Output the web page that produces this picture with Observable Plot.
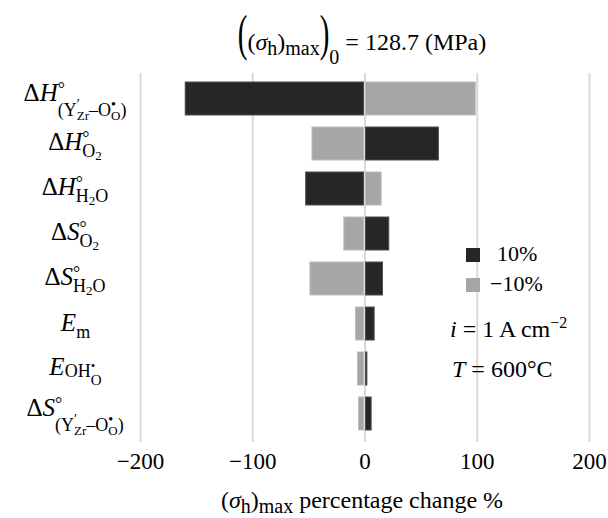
<!DOCTYPE html>
<html><head><meta charset="utf-8">
<script src="https://cdn.jsdelivr.net/npm/d3@7"></script>
<script src="https://cdn.jsdelivr.net/npm/@observablehq/plot@0.6"></script>
<style>body{margin:0;background:#fff} svg{display:block} svg text{font-family:'Liberation Serif','Times New Roman',serif}</style>
</head><body><div id="chart"></div>
<script>
// ---- data ----
const categories = ["ΔH°(Y′Zr–O•O)", "ΔH°O2", "ΔH°H2O", "ΔS°O2", "ΔS°H2O", "Em", "EOH•O", "ΔS°(Y′Zr–O•O)"];
const plus10  = [-160.6, 66.7, -53.3, 22.5, 16.9, 9.5, 3.0, 6.8];
const minus10 = [99.6, -47.7, 15.7, -19.3, -49.5, -8.9, -7.1, -6.2];
const seriesNames = ["10%", "−10%"];
const xTicks = [-200, -100, 0, 100, 200];
const sigma0 = 128.7;

// ---- rich-text markup for labels (text pieces + typographic role) ----
const labelMarkup = {
  "ΔH°(Y′Zr–O•O)": [["Δ","L"],["H","LI"],["°","sup"],["(Y","lsub",1],["′","lsubsup"],["Zr","lsubsub",1],["–O","lsub"],["•","lsubsup"],["O","lsubsub",1],[")","lsub"]],
  "ΔH°O2": [["Δ","L"],["H","LI"],["°","sup"],["O","sub",1],["2","sub2"]],
  "ΔH°H2O": [["Δ","L"],["H","LI"],["°","sup"],["H","sub",1],["2","sub2"],["O","sub"]],
  "ΔS°O2": [["Δ","L"],["S","LI"],["°","sup"],["O","sub",1],["2","sub2"]],
  "ΔS°H2O": [["Δ","L"],["S","LI"],["°","sup"],["H","sub",1],["2","sub2"],["O","sub"]],
  "Em": [["E","LI"],["m","sub"]],
  "EOH•O": [["E","LI"],["OH","esub"],["•","esubsup"],["O","esubsub",1]],
  "ΔS°(Y′Zr–O•O)": [["Δ","L"],["S","LI"],["°","sup"],["(Y","lsub",1],["′","lsubsup"],["Zr","lsubsub",1],["–O","lsub"],["•","lsubsup"],["O","lsubsub",1],[")","lsub"]]
};
const roles = {
  n: {size: 24, dy: 0},
  i: {size: 24, dy: 0, italic: true},
  L: {size: 25, dy: 0},
  LI: {size: 25, dy: 0, italic: true},
  sup: {size: 18, dy: -6},
  sub: {size: 18, dy: 7},
  sub2: {size: 13, dy: 10},
  lsub: {size: 18, dy: 15},
  lsubsup: {size: 14, dy: 8},
  lsubsub: {size: 13, dy: 19},
  esub: {size: 18, dy: 2},
  esubsup: {size: 13, dy: -5},
  esubsub: {size: 15, dy: 10},
  big: {size: 29, dy: 0, scaleY: 1.75},
  tsub: {size: 20, dy: 5},
  tsub0: {size: 20, dy: 14},
  sup2: {size: 16, dy: -9}
};

const rows = categories.flatMap((c, i) => [
  {cat: c, series: seriesNames[0], value: plus10[i]},
  {cat: c, series: seriesNames[1], value: minus10[i]}
]);

const FONT = "'Liberation Serif', 'Times New Roman', serif";
const plot = Plot.plot({
  width: 608, height: 518,
  marginTop: 73, marginBottom: 80, marginLeft: 140, marginRight: 19,
  style: {fontFamily: FONT, background: "white", color: "black"},
  x: {domain: [-200, 200], axis: null},
  y: {domain: categories, axis: null, paddingInner: 0.27, paddingOuter: 0.13},
  marks: [
    Plot.ruleX(xTicks, {stroke: "#d9d9d9", strokeWidth: 2, insetBottom: -4}),
    Plot.barX(rows.filter(d => d.series === seriesNames[1]), {x: "value", y: "cat", fill: "#a6a6a6", stroke: "#bcbcbc", strokeWidth: 1, insetLeft: 1, insetRight: 1}),
    Plot.barX(rows.filter(d => d.series === seriesNames[0]), {x: "value", y: "cat", fill: "#262626", stroke: "#4d4d4d", strokeWidth: 1, insetLeft: 1, insetRight: 1}),
    Plot.text(xTicks, {x: d => d, text: d => d3.format("d")(d), frameAnchor: "bottom", lineAnchor: "bottom", dy: 30, fontSize: 23, fill: "black"})
  ]
});
document.getElementById("chart").appendChild(plot);

const svg = d3.select(plot);
const layer = svg.append("g").attr("fill", "black").attr("text-anchor", "start");

function rich(parts, x, y, anchor, vcenter) {
  const g = layer.append("g");
  let cx = 0, prevStart = 0;
  for (const [t, role, back] of parts) {
    const st = roles[role];
    const start = back ? prevStart : cx;
    const el = g.append("text")
      .attr("font-size", st.size)
      .attr("font-style", st.italic ? "italic" : null)
      .attr("text-anchor", "start")
      .style("white-space", "pre")
      .text(t);
    if (st.scaleY) el.attr("transform", `translate(${start},${st.dy}) scale(1,${st.scaleY})`);
    else el.attr("x", start).attr("y", st.dy);
    const w = el.node().getComputedTextLength();
    prevStart = start;
    cx = Math.max(cx, start + w);
  }
  const bb = g.node().getBBox();
  const tx = anchor === "middle" ? x - (bb.x + bb.width / 2) : x - bb.x;
  const ty = vcenter ? y - (bb.y + bb.height / 2) : y;
  g.attr("transform", `translate(${tx},${ty})`);
  return g;
}

// y tick labels, centred on the band scale
const ys = plot.scale("y");
for (const c of categories) {
  const yc = ys.apply(c) + ys.bandwidth / 2;
  rich(labelMarkup[c], 75, yc + 2, "middle", true);
}

// title
rich([["(","big"],["(","n"],["σ","i"],["h","tsub"],[")","n"],["max","tsub"],[")","big"],["0","tsub0"],["\u00a0=\u00a0" + sigma0 + " (MPa)","n"]], 362, 50, "middle", false);

// x axis title
rich([["(","n"],["σ","i"],["h","tsub"],[")","n"],["max","tsub"],["\u00a0percentage change %","n"]], 362, 508, "middle", false);

// legend
const legendColors = ["#262626", "#a6a6a6"];
seriesNames.forEach((s, i) => {
  layer.append("rect").attr("x", 466).attr("y", 248 + i * 30).attr("width", 14).attr("height", 14).attr("fill", legendColors[i]);
  layer.append("text").attr("x", i === 0 ? 497 : 490).attr("y", 261 + i * 30).attr("font-size", 22).text(s);
});

// annotations
rich([["i","i"],["\u00a0=\u00a01 A cm","n"],["−2","sup2"]], 450, 337, "start", false);
rich([["T","i"],["\u00a0=\u00a0600°C","n"]], 452, 377, "start", false);
</script>
</body></html>
